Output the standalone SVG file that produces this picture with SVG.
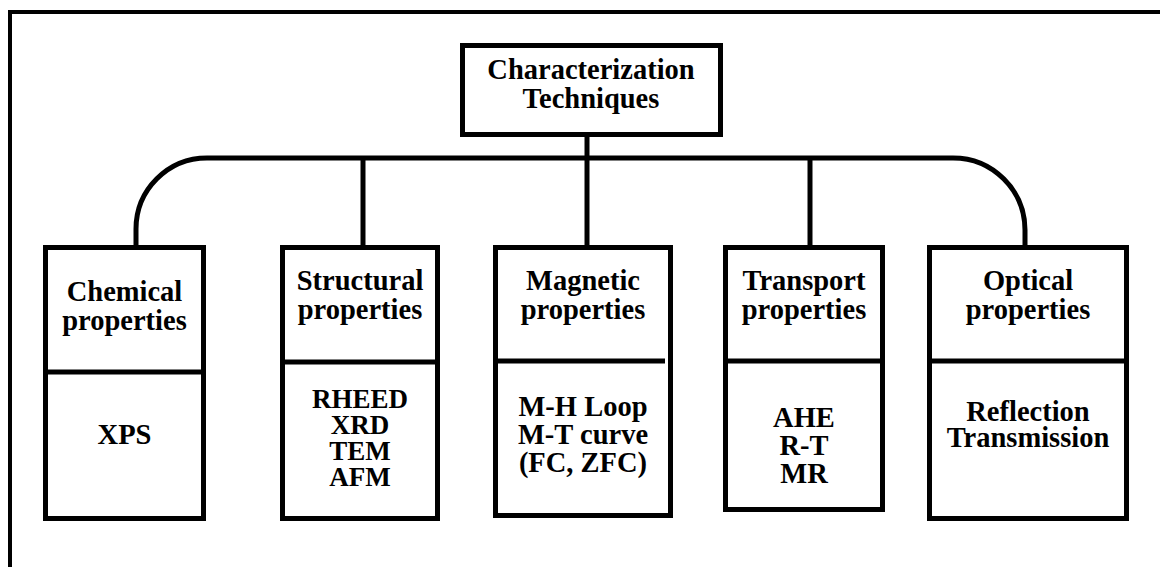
<svg xmlns="http://www.w3.org/2000/svg" width="1160" height="567" viewBox="0 0 1160 567">
  <style>
    .frame { fill: none; stroke: #000; stroke-width: 4; }
    .box { fill: #fff; stroke: #000; stroke-width: 5; }
    .div { stroke: #000; stroke-width: 5; }
    .wire { fill: none; stroke: #000; stroke-width: 5; }
    text { font-family: "Liberation Serif", "Times New Roman", serif; font-weight: bold; font-size: 28.5px; fill: #000; text-anchor: middle; }
    .tight { font-size: 27px; }
  </style>
  <rect width="1160" height="567" fill="#fff"/>
  <!-- open page frame -->
  <path class="frame" d="M10,567 V12 H1160"/>

  <!-- connectors -->
  <g id="connectors">
    <path class="wire" d="M587,137 V158"/>
    <path class="wire" d="M136,247 V229 A71,71 0 0 1 207,158 H953 A72,72 0 0 1 1025,230 V247"/>
    <path class="wire" d="M363,158 V247"/>
    <path class="wire" d="M587,158 V247"/>
    <path class="wire" d="M810,158 V247"/>
  </g>

  <g id="root">
    <rect class="box" x="462.5" y="45.5" width="258" height="89"/>
    <text x="591" y="79">Characterization</text>
    <text x="591" y="108">Techniques</text>
  </g>

  <g id="chemical">
    <rect class="box" x="45.5" y="247.5" width="158" height="271"/>
    <line class="div" x1="45.5" y1="372" x2="203.5" y2="372"/>
    <text x="124.5" y="301">Chemical</text>
    <text x="124.5" y="330">properties</text>
    <text x="124.5" y="444">XPS</text>
  </g>

  <g id="structural">
    <rect class="box" x="282.5" y="247.5" width="155" height="271"/>
    <line class="div" x1="282.5" y1="362" x2="437.5" y2="362"/>
    <text x="360" y="290">Structural</text>
    <text x="360" y="319">properties</text>
    <text class="tight" x="360" y="408">RHEED</text>
    <text class="tight" x="360" y="434">XRD</text>
    <text class="tight" x="360" y="460">TEM</text>
    <text class="tight" x="360" y="486">AFM</text>
  </g>

  <g id="magnetic">
    <rect class="box" x="495.5" y="247.5" width="175" height="268"/>
    <line class="div" x1="495.5" y1="361" x2="665" y2="361"/>
    <text x="583" y="290">Magnetic</text>
    <text x="583" y="319">properties</text>
    <text x="583" y="416">M-H Loop</text>
    <text x="583" y="444">M-T curve</text>
    <text x="583" y="472">(FC, ZFC)</text>
  </g>

  <g id="transport">
    <rect class="box" x="725.5" y="247.5" width="157" height="262"/>
    <line class="div" x1="725.5" y1="361" x2="882.5" y2="361"/>
    <text x="804" y="290">Transport</text>
    <text x="804" y="319">properties</text>
    <text x="804" y="427">AHE</text>
    <text x="804" y="455">R-T</text>
    <text x="804" y="483">MR</text>
  </g>

  <g id="optical">
    <rect class="box" x="929.5" y="247.5" width="197" height="271"/>
    <line class="div" x1="929.5" y1="361" x2="1126.5" y2="361"/>
    <text x="1028" y="290">Optical</text>
    <text x="1028" y="319">properties</text>
    <text x="1028" y="421">Reflection</text>
    <text x="1028" y="447">Transmission</text>
  </g>
</svg>
